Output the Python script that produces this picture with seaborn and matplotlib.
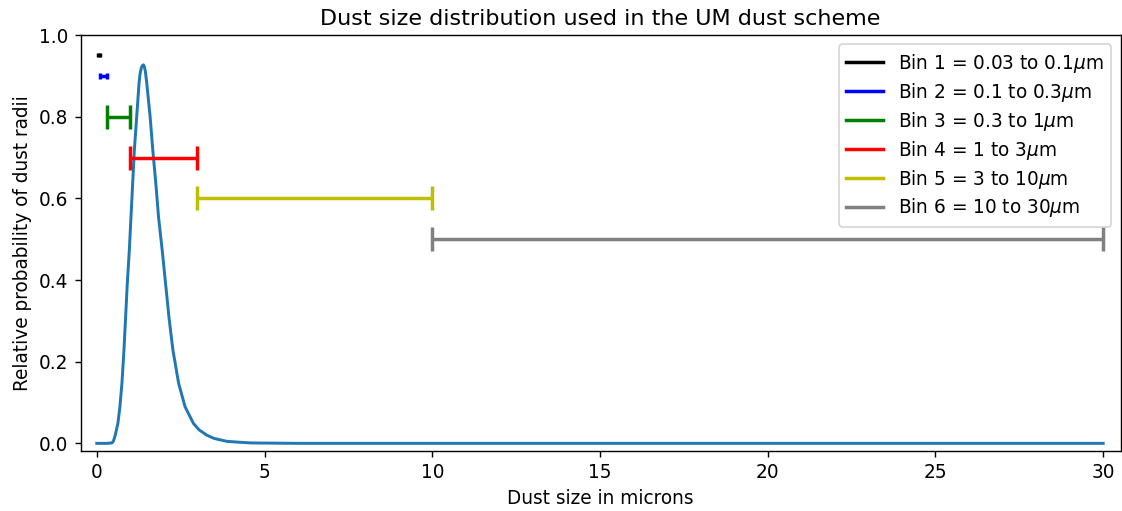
import matplotlib

matplotlib.use("Agg")
import seaborn as sns
from matplotlib import pyplot as plt
from matplotlib.lines import Line2D

# curve (dust radius in microns, relative probability)
size_microns = [
    0.0, 0.3, 0.45, 0.50, 0.55, 0.63, 0.69, 0.75, 0.81, 0.86, 0.91, 0.97,
    1.02, 1.07, 1.12, 1.19, 1.26, 1.29, 1.32, 1.35, 1.39, 1.42, 1.45, 1.49,
    1.59, 1.67, 1.76, 1.84, 1.95, 2.05, 2.15, 2.27, 2.44, 2.63, 2.88, 3.05,
    3.28, 3.5, 3.87, 4.2, 4.6, 6.0, 30.0,
]
probability = [
    0.0, 0.0, 0.001, 0.006, 0.020, 0.049, 0.090, 0.147, 0.228, 0.310, 0.392, 0.473,
    0.555, 0.637, 0.718, 0.800, 0.882, 0.905, 0.917, 0.924, 0.927, 0.922, 0.910, 0.882,
    0.800, 0.718, 0.637, 0.555, 0.473, 0.392, 0.310, 0.228, 0.147, 0.090, 0.049, 0.033,
    0.020, 0.012, 0.005, 0.003, 0.001, 0.0, 0.0,
]

# UM dust bins
bin_lower = [0.03, 0.1, 0.3, 1, 3, 10]
bin_upper = [0.1, 0.3, 1, 3, 10, 30]
bin_height = [0.95, 0.9, 0.8, 0.7, 0.6, 0.5]
bin_caps = [1.2, 2.0, 7, 7, 7, 7]
bin_colors = ["k", "b", "g", "r", "y", "grey"]
bin_labels = [
    r"Bin 1 = 0.03 to 0.1$\mu$m",
    r"Bin 2 = 0.1 to 0.3$\mu$m",
    r"Bin 3 = 0.3 to 1$\mu$m",
    r"Bin 4 = 1 to 3$\mu$m",
    r"Bin 5 = 3 to 10$\mu$m",
    r"Bin 6 = 10 to 30$\mu$m",
]

plt.rcParams["font.size"] = 10.7
plt.rcParams["axes.titlesize"] = 12.8

dpi = 125
fig, ax = plt.subplots(figsize=(1122 / dpi, 511 / dpi), dpi=dpi)
fig.subplots_adjust(left=0.0719, right=0.9988, bottom=0.118, top=0.9315)

sns.lineplot(x=size_microns, y=probability, ax=ax, color="#1f77b4", linewidth=1.7)

handles = []
for lo, hi, h, cap, c, lab in zip(bin_lower, bin_upper, bin_height, bin_caps, bin_colors, bin_labels):
    ax.errorbar(
        x=(lo + hi) / 2,
        y=h,
        xerr=(hi - lo) / 2,
        color=c,
        elinewidth=2,
        capsize=cap,
        capthick=2,
    )
    handles.append(Line2D([0], [0], color=c, lw=2, label=lab))

ax.legend(handles=handles, loc="upper right", labelspacing=0.32)
ax.set_xlim(-0.48, 30.52)
ax.set_ylim(-0.018, 1.0)
ax.set_xlabel("Dust size in microns")
ax.set_ylabel("Relative probability of dust radii")
ax.set_title("Dust size distribution used in the UM dust scheme")

plt.savefig("out.png", dpi=dpi)
plt.close()
